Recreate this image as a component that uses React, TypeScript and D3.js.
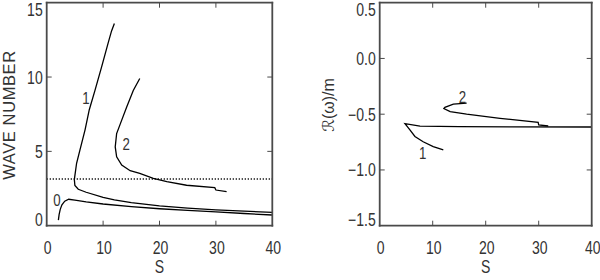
import * as React from "react"
import * as d3 from "d3"

// S ticks shared by both panels
const sTicks = [0, 10, 20, 30, 40]
const waveTicks = [0, 5, 10, 15]
const freqTicks = [-1.5, -1.0, -0.5, 0.0, 0.5]

// left panel: wave number along each branch, [S, k]
const wave0: [number, number][] = [
  [2.07, 0.38], [2.2, 0.75], [2.4, 1.1], [2.7, 1.4], [3.2, 1.65], [3.9, 1.78],
  [5, 1.72], [7, 1.6], [10, 1.46], [15, 1.28], [20, 1.14], [25, 1.03],
  [30, 0.93], [35, 0.82], [40, 0.72],
]
const wave1: [number, number][] = [
  [12.0, 13.6], [11.5, 13.1], [10.9, 12.3], [9.75, 10.7], [8.56, 9.1],
  [7.55, 7.8], [6.8, 6.45], [5.9, 5.1], [5.3, 4.2], [4.9, 3.1], [5.0, 2.7],
  [5.6, 2.45], [7, 2.25], [10, 1.9], [12, 1.74], [15, 1.55], [20, 1.33],
  [25, 1.18], [30, 1.07], [35, 0.98], [40, 0.9],
]
const wave2: [number, number][] = [
  [16.5, 9.9], [15.35, 9.1], [14.2, 8.0], [13.1, 6.9], [12.4, 6.2],
  [12.15, 5.3], [12.4, 4.64], [13.3, 4.08], [14.8, 3.7], [16.5, 3.52],
  [18.9, 3.19], [21.3, 2.96], [24.8, 2.72], [29.8, 2.56], [30.0, 2.4],
  [31.9, 2.29],
]
const cutoff = Math.PI

// right panel: real part of frequency over m, [S, Re(w)/m]
const freq1: [number, number][] = [
  [12.0, -0.82], [10.1, -0.79], [8.2, -0.747], [6.65, -0.7], [5.7, -0.64],
  [4.77, -0.585], [7.6, -0.607], [15, -0.612], [25, -0.614], [40, -0.615],
]
const freq2: [number, number][] = [
  [16.4, -0.4], [13.9, -0.41], [12.3, -0.438], [12.1, -0.45], [13.3, -0.477],
  [16.4, -0.5], [22.7, -0.537], [29.9, -0.573], [30.0, -0.597], [31.8, -0.606],
]

const font = "'Liberation Sans', Arial, sans-serif"
const inkColor = "#333333"
const frameColor = "#4a4a4a"

function Label({ x, y, text, size = 18, anchor = "middle", sx = 0.78 }: any) {
  return (
    <text
      transform={`translate(${x},${y}) scale(${sx},1)`}
      textAnchor={anchor}
      fontFamily={font}
      fontSize={size}
      fill={inkColor}
    >
      {text}
    </text>
  )
}

function Panel({ x0, x1, yDomain, yTicks, fmt, curves, labels, yTitle }: any) {
  const x = d3.scaleLinear().domain([0, 40]).range([x0, x1])
  const y = d3.scaleLinear().domain(yDomain).range([225.7, 2.7])
  const line = d3
    .line<[number, number]>()
    .x((d) => x(d[0]))
    .y((d) => y(d[1]))
  const n = yTicks.length
  const [yb, yt] = y.range()
  const tl = 5

  return (
    <g>
      {curves.map((c: any, i: number) => (
        <path
          key={i}
          d={line(c.data) || ""}
          fill="none"
          stroke="#000000"
          strokeWidth={1.3}
          strokeDasharray={c.dash}
        />
      ))}
      {/* frame */}
      <line x1={x0} y1={yt} x2={x1} y2={yt} stroke={frameColor} strokeWidth={1.8} strokeLinecap="square" />
      <line x1={x0} y1={yb} x2={x1} y2={yb} stroke={frameColor} strokeWidth={1.8} strokeLinecap="square" />
      <line x1={x0} y1={yt} x2={x0} y2={yb} stroke={frameColor} strokeWidth={1.8} strokeLinecap="square" />
      <line x1={x1} y1={yt} x2={x1} y2={yb} stroke={frameColor} strokeWidth={1.8} strokeLinecap="square" />
      {sTicks.slice(1, -1).map((t) => (
        <g key={"xt" + t}>
          <line x1={x(t)} x2={x(t)} y1={yb} y2={yb - tl} stroke={frameColor} strokeWidth={1} />
          <line x1={x(t)} x2={x(t)} y1={yt} y2={yt + tl} stroke={frameColor} strokeWidth={1} />
        </g>
      ))}
      {yTicks.slice(1, -1).map((t: number) => (
        <g key={"yt" + t}>
          <line x1={x0} x2={x0 + tl} y1={y(t)} y2={y(t)} stroke={frameColor} strokeWidth={1} />
          <line x1={x1} x2={x1 - tl} y1={y(t)} y2={y(t)} stroke={frameColor} strokeWidth={1} />
        </g>
      ))}
      {sTicks.map((t) => (
        <Label key={"xl" + t} x={x(t) + 1} y={254} text={String(t)} />
      ))}
      {yTicks.map((t: number, i: number) => {
        let yy = y(t) + 6.5
        if (i === 0) yy -= 6
        if (i === n - 1) yy += 7
        return <Label key={"yl" + t} x={x0 - 4} y={yy} text={fmt(t)} anchor="end" />
      })}
      <Label x={(x0 + x1) / 2} y={273} text="S" />
      {labels.map((l: any) => (
        <Label key={l.t + l.s} x={x(l.s)} y={y(l.v) + 6} text={l.t} size={17} />
      ))}
      {yTitle}
    </g>
  )
}

export default function App() {
  const fmtW = (v: number) => String(v)
  const fmtF = (v: number) => (v < 0 ? "\u2212" : "") + Math.abs(v).toFixed(1)
  return (
    <svg width={600} height={280} style={{ position: "absolute", left: 0, top: 0, background: "#fff" }}>
      <Panel
        x0={46.7}
        x1={272.3}
        yDomain={[0, 15]}
        yTicks={waveTicks}
        fmt={fmtW}
        curves={[
          { data: wave0 },
          { data: wave1 },
          { data: wave2 },
          { data: [[0, cutoff], [40, cutoff]], dash: "1.2,1.8" },
        ]}
        labels={[
          { t: "0", s: 1.8, v: 1.75 },
          { t: "1", s: 6.95, v: 8.6 },
          { t: "2", s: 14.1, v: 5.5 },
        ]}
        yTitle={
          <text
            transform="translate(15,115) rotate(-90)"
            textAnchor="middle"
            fontFamily={font}
            fontSize={16.5}
            letterSpacing={0.6}
            fill={inkColor}
          >
            WAVE NUMBER
          </text>
        }
      />
      <Panel
        x0={379.7}
        x1={591.7}
        yDomain={[-1.5, 0.5]}
        yTicks={freqTicks}
        fmt={fmtF}
        curves={[{ data: freq1 }, { data: freq2 }]}
        labels={[
          { t: "2", s: 15.6, v: -0.35 },
          { t: "1", s: 8.1, v: -0.85 },
        ]}
        yTitle={
          <text
            transform="translate(334,105) rotate(-90)"
            textAnchor="middle"
            fontFamily="'DejaVu Sans', sans-serif"
            fontSize={16}
            fill={inkColor}
          >
            <tspan fontStyle="italic">ℛ</tspan>
            <tspan fontFamily={font}>(ω)/m</tspan>
          </text>
        }
      />
    </svg>
  )
}
